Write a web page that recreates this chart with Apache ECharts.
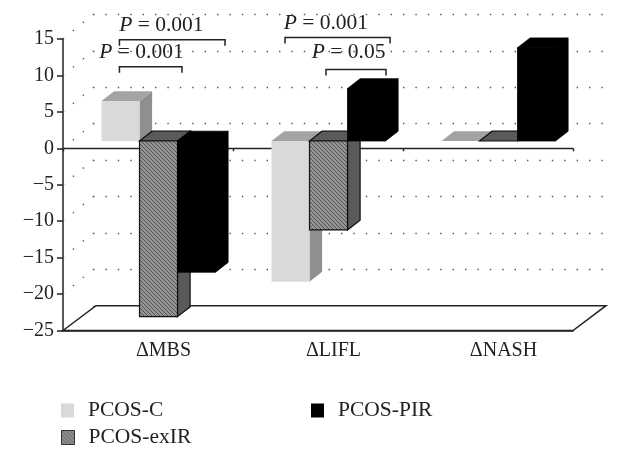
<!DOCTYPE html>
<html><head><meta charset="utf-8">
<style>html,body{margin:0;padding:0;background:#fff}#c{width:621px;height:458px}</style>
<script src="https://cdn.jsdelivr.net/npm/echarts@6/dist/echarts.min.js"></script>
</head><body><div id="c"></div>
<script>
const categories = ['ΔMBS', 'ΔLIFL', 'ΔNASH'];
const yTicks = [-20, -15, -10, -5, 0, 5, 10, 15];
const pcosC = [5.5, -19.3, 0];
const pcosExIR = [-24.1, -12.2, 0];
const pcosPIR = [-18, 7.2, 12.8];
// [category, from (fraction of category width from centre), to, axis value, label, label centre fraction, label axis value]
const brackets = [
  [0, -0.168, 0.453, 14.9, 'P = 0.001', 0.079, 15.3],
  [0, -0.168, 0.200, 11.2, 'P = 0.001', -0.038, 11.6],
  [1, -0.194, 0.424, 15.2, 'P = 0.001', 0.046, 15.6],
  [1, 0.047, 0.400, 10.8, 'P = 0.05', 0.18, 11.6]
];

const FONT = '"Liberation Serif", serif';
const INK = '#222';
const hatch = (function () {
  const c = document.createElement('canvas');
  c.width = 4; c.height = 4;
  const g = c.getContext('2d');
  g.fillStyle = '#939393'; g.fillRect(0, 0, 4, 4);
  g.strokeStyle = '#545454'; g.lineWidth = 1;
  g.beginPath();
  g.moveTo(-1, -1); g.lineTo(5, 5);
  g.moveTo(-1, 3); g.lineTo(1, 5);
  g.moveTo(3, -1); g.lineTo(5, 1);
  g.stroke();
  return { image: c, repeat: 'repeat' };
})();

const BAR_W = 38, DX = 12.6, DY = 9.8, BASE_LIFT = 7.3, GROUP_SHIFT = 10.5;

function barSeries(name, values, idx, look) {
  return {
    name, type: 'custom', xAxisIndex: 0, yAxisIndex: 0, z: 3 + idx,
    data: values.map((v, i) => [i, v]),
    itemStyle: { color: look.legend },
    silent: true,
    clip: false,
    renderItem(params, api) {
      const c = api.value(0), v = api.value(1);
      const x0 = api.coord([c, 0])[0] + GROUP_SHIFT + (idx - 1.5) * BAR_W;
      const x1 = x0 + BAR_W;
      const base = api.coord([c, 0])[1] - BASE_LIFT;
      const end = api.coord([c, v])[1] - BASE_LIFT;
      const up = Math.min(base, end), dn = Math.max(base, end);
      const st = (fill) => ({ fill, stroke: look.stroke || null, lineWidth: look.stroke ? (look.strokeW || 1.2) : 0 });
      const kids = [
        { type: 'polygon', shape: { points: [[x1, up], [x1 + DX, up - DY], [x1 + DX, dn - DY], [x1, dn]] }, style: st(look.side) },
        { type: 'polygon', shape: { points: [[x0, up], [x0 + DX, up - DY], [x1 + DX, up - DY], [x1, up]] }, style: st(look.top) }
      ];
      if (dn - up > 0.5) kids.push({ type: 'rect', shape: { x: x0, y: up, width: BAR_W, height: dn - up }, style: st(look.front) });
      return { type: 'group', children: kids };
    }
  };
}

const wallSeries = {
  type: 'custom', xAxisIndex: 0, yAxisIndex: 0, z: 1, silent: true, clip: false,
  data: yTicks.map(v => [0, v]),
  renderItem(params, api) {
    const p = api.coord([0, api.value(1)]);
    const xl = p[0] - api.size([1, 0])[0] / 2;
    return {
      type: 'line',
      shape: { x1: xl, y1: p[1], x2: xl + 30, y2: p[1] - 24.6 },
      style: { stroke: '#555', lineWidth: 1.4, lineDash: [1.4, 11.4], lineDashOffset: 12.8 }
    };
  }
};

const floorSeries = {
  type: 'custom', xAxisIndex: 0, yAxisIndex: 0, z: 2, silent: true, clip: false,
  data: [[0, -25]],
  renderItem(params, api) {
    const p = api.coord([0, -25]);
    const w = api.size([1, 0])[0];
    const xl = p[0] - w / 2, xr = xl + categories.length * w;
    return {
      type: 'polygon',
      shape: { points: [[xl, p[1]], [xl + 33, p[1] - 24.8], [xr + 33, p[1] - 24.8], [xr, p[1]]] },
      style: { fill: '#fff', stroke: INK, lineWidth: 1.5 }
    };
  }
};

const bracketSeries = {
  type: 'custom', xAxisIndex: 0, yAxisIndex: 0, z: 9, silent: true, clip: false,
  data: brackets.map((b, i) => [b[0], b[3], i]),
  renderItem(params, api) {
    const b = brackets[api.value(2)];
    const p = api.coord([b[0], b[3]]);
    const w = api.size([1, 0])[0];
    const a = p[0] + b[1] * w, z = p[0] + b[2] * w, y = p[1];
    const ly = api.coord([b[0], b[6]])[1];
    return {
      type: 'group',
      children: [
        { type: 'polyline', shape: { points: [[a, y + 6], [a, y], [z, y], [z, y + 6]] }, style: { fill: null, stroke: INK, lineWidth: 1.5 } },
        { type: 'text', x: p[0] + b[5] * w, y: ly, style: {
            text: '{i|P}{t|' + b[4].slice(1) + '}', align: 'center', verticalAlign: 'bottom',
            rich: { i: { fontFamily: FONT, fontSize: 21.5, fontStyle: 'italic', fill: INK, color: INK }, t: { fontFamily: FONT, fontSize: 21.5, fill: INK, color: INK } }
        } }
      ]
    };
  }
};

const legendText = { fontFamily: FONT, fontSize: 21.5, color: INK, padding: [0, 0, 0, 9] };
function legendOf(name, left, top, style) {
  return { show: true, data: [name], left, top, padding: 0, orient: 'horizontal', icon: 'rect', itemWidth: 13, itemHeight: 14, textStyle: legendText, itemStyle: style, selectedMode: false };
}

const chart = echarts.init(document.getElementById('c'), null, { renderer: 'canvas' });
chart.setOption({
  animation: false,
  backgroundColor: '#fff',
  grid: [
    { left: 63, right: 48, top: 39, bottom: 127.5 },
    { left: 93, right: 15, top: 14.5, bottom: 152.2 }
  ],
  xAxis: [
    { type: 'category', gridIndex: 0, data: categories, position: 'bottom',
      axisLine: { onZero: true, lineStyle: { color: INK, width: 1.4 } },
      axisTick: { show: true, length: 3, inside: false, lineStyle: { color: INK, width: 1.4 } },
      axisLabel: { show: false } },
    { type: 'category', gridIndex: 0, data: categories, position: 'bottom',
      axisLine: { onZero: false, lineStyle: { color: INK, width: 1.5 } },
      axisTick: { show: false },
      axisLabel: { show: true, fontFamily: FONT, fontSize: 20, color: INK, margin: 10, padding: [0, 0, 0, 31] } },
    { type: 'category', gridIndex: 1, data: categories, show: false }
  ],
  yAxis: [
    { type: 'value', gridIndex: 0, min: -25, max: 15, interval: 5,
      axisLine: { show: true, onZero: false, lineStyle: { color: INK, width: 1.5 } },
      axisTick: { show: true, length: 6, lineStyle: { color: INK, width: 1.5 } },
      splitLine: { show: false },
      axisLabel: { fontFamily: FONT, fontSize: 20, color: INK, margin: 9, formatter: v => String(v).replace('-', '−') } },
    { type: 'value', gridIndex: 1, min: -25, max: 15, interval: 5,
      axisLine: { show: false }, axisTick: { show: false }, axisLabel: { show: false },
      splitLine: { show: true, lineStyle: { color: '#555', width: 1.4, type: [1.4, 11] } } }
  ],
  legend: [
    legendOf('PCOS-C', 61, 399.5, { color: '#d9d9d9' }),
    legendOf('PCOS-exIR', 61, 426.5, { color: hatch, borderColor: '#333', borderWidth: 1 }),
    legendOf('PCOS-PIR', 311, 399.5, { color: '#000' })
  ],
  series: [
    wallSeries,
    floorSeries,
    barSeries('PCOS-C', pcosC, 0, { front: '#d9d9d9', top: '#a3a3a3', side: '#8f8f8f', legend: '#d9d9d9' }),
    barSeries('PCOS-exIR', pcosExIR, 1, { front: hatch, top: '#5a5a5a', side: '#5a5a5a', stroke: '#111', legend: '#777' }),
    barSeries('PCOS-PIR', pcosPIR, 2, { front: '#000', top: '#000', side: '#000', stroke: '#000', strokeW: 0.8, legend: '#000' }),
    bracketSeries
  ]
});
</script></body></html>
